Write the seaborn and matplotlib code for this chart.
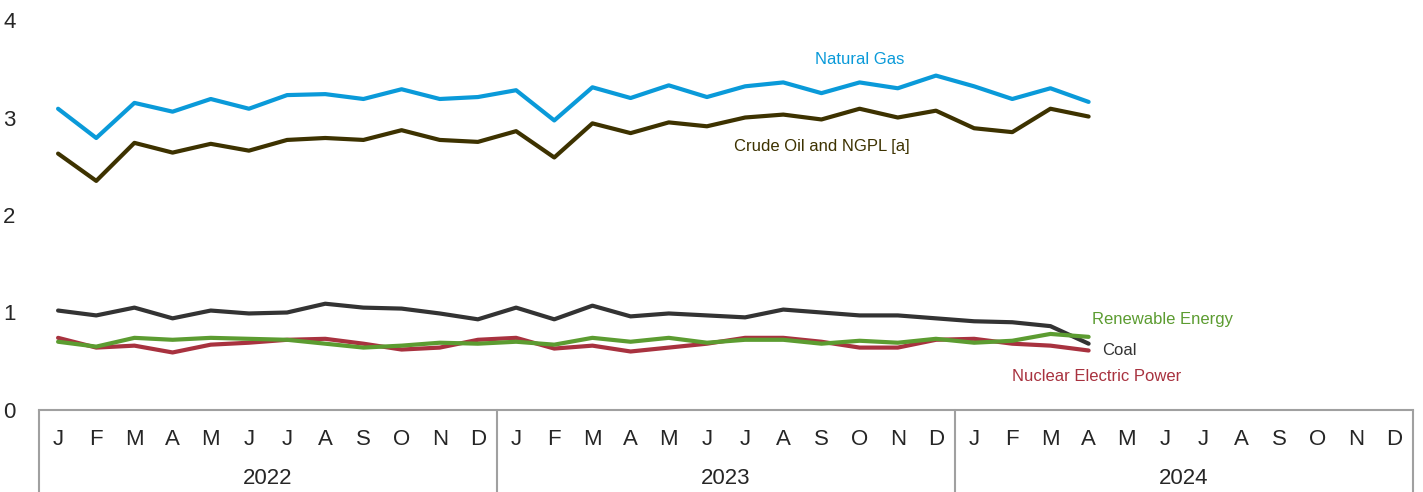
import pandas as pd
import numpy as np
import matplotlib.pyplot as plt
import matplotlib.transforms as mtransforms
import seaborn as sns

# monthly values, Jan 2022 - Apr 2024 (quadrillion Btu)
months = ["J", "F", "M", "A", "M", "J", "J", "A", "S", "O", "N", "D"]
years = ["2022", "2023", "2024"]

natural_gas = [3.09, 2.79, 3.15, 3.06, 3.19, 3.09, 3.23, 3.24, 3.19, 3.29, 3.19, 3.21,
               3.28, 2.97, 3.31, 3.20, 3.33, 3.21, 3.32, 3.36, 3.25, 3.36, 3.30, 3.43,
               3.32, 3.19, 3.30, 3.16]
crude_oil = [2.63, 2.35, 2.74, 2.64, 2.73, 2.66, 2.77, 2.79, 2.77, 2.87, 2.77, 2.75,
             2.86, 2.59, 2.94, 2.84, 2.95, 2.91, 3.00, 3.03, 2.98, 3.09, 3.00, 3.07,
             2.89, 2.85, 3.09, 3.01]
coal = [1.02, 0.97, 1.05, 0.94, 1.02, 0.99, 1.00, 1.09, 1.05, 1.04, 0.99, 0.93,
        1.05, 0.93, 1.07, 0.96, 0.99, 0.97, 0.95, 1.03, 1.00, 0.97, 0.97, 0.94,
        0.91, 0.90, 0.86, 0.68]
nuclear = [0.74, 0.64, 0.66, 0.59, 0.67, 0.69, 0.72, 0.73, 0.68, 0.62, 0.64, 0.72,
           0.74, 0.63, 0.66, 0.60, 0.64, 0.68, 0.74, 0.74, 0.70, 0.64, 0.64, 0.72,
           0.73, 0.68, 0.66, 0.61]
renewable = [0.70, 0.65, 0.74, 0.72, 0.74, 0.73, 0.72, 0.68, 0.64, 0.66, 0.69, 0.68,
             0.70, 0.67, 0.74, 0.70, 0.74, 0.69, 0.72, 0.72, 0.68, 0.71, 0.69, 0.73,
             0.69, 0.71, 0.78, 0.75]

series = {
    "Natural Gas": natural_gas,
    "Crude Oil and NGPL [a]": crude_oil,
    "Coal": coal,
    "Nuclear Electric Power": nuclear,
    "Renewable Energy": renewable,
}
colors = {
    "Natural Gas": "#0a9ad9",
    "Crude Oil and NGPL [a]": "#3d3200",
    "Coal": "#333333",
    "Nuclear Electric Power": "#a8323f",
    "Renewable Energy": "#5c9c31",
}

rows = []
for name, vals in series.items():
    for i, v in enumerate(vals):
        rows.append({"month": i, "value": v, "source": name})
df = pd.DataFrame(rows)

sns.set_style("white")
plt.rcParams["font.family"] = ["Liberation Sans", "DejaVu Sans"]

fig = plt.figure(figsize=(14.23, 4.92), dpi=100)
ax = fig.add_axes([0.0274, 0.1667, 0.9656, 0.7926])

sns.lineplot(data=df, x="month", y="value", hue="source", palette=colors,
             linewidth=3, ax=ax, legend=False, sort=False)

n_months = len(months) * len(years)
ax.set_xlim(-0.5, n_months - 0.5)
ax.set_ylim(0, 4)
ax.set_yticks([0, 1, 2, 3, 4])
ax.set_yticklabels(["0", "1", "2", "3", "4"])
ax.set_xticks(np.arange(n_months))
ax.set_xticklabels(months * len(years))
ax.set_xlabel("")
ax.set_ylabel("")

ax.tick_params(axis="y", length=0, pad=17, labelsize=16)
ax.tick_params(axis="x", direction="in", length=4, width=1, color="#a0a0a0",
               pad=14, labelsize=16)

for s in ["top", "right", "left"]:
    ax.spines[s].set_visible(False)
ax.spines["bottom"].set_color("#a0a0a0")
ax.spines["bottom"].set_linewidth(1.5)

# year separators and year labels below the axis
trans = mtransforms.blended_transform_factory(ax.transData, ax.transAxes)
for k in range(len(years) + 1):
    xpos = k * 12 - 0.5
    ax.plot([xpos, xpos], [0, -0.26], transform=trans, color="#a0a0a0",
            linewidth=1.5, clip_on=False)
for k, yr in enumerate(years):
    ax.text(k * 12 + 5.5, -0.175, yr, transform=trans, ha="center", va="center",
            fontsize=16)

# series labels
ax.text(21.0, 3.6, "Natural Gas", color=colors["Natural Gas"], fontsize=12,
        ha="center", va="center")
ax.text(20.0, 2.7, "Crude Oil and NGPL [a]", color=colors["Crude Oil and NGPL [a]"],
        fontsize=12, ha="center", va="center")
ax.text(27.1, 0.93, "Renewable Energy", color=colors["Renewable Energy"],
        fontsize=12, ha="left", va="center")
ax.text(27.35, 0.61, "Coal", color=colors["Coal"], fontsize=12,
        ha="left", va="center")
ax.text(25.0, 0.34, "Nuclear Electric Power", color=colors["Nuclear Electric Power"],
        fontsize=12, ha="left", va="center")

fig.savefig("out.png", dpi=100)
